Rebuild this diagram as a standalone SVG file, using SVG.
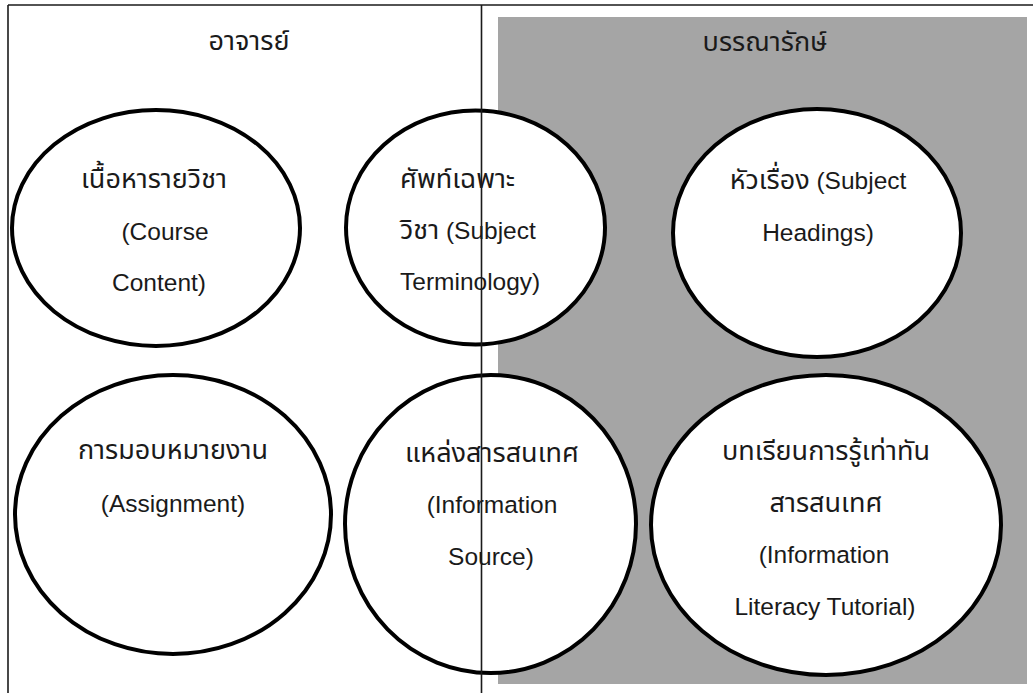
<svg xmlns="http://www.w3.org/2000/svg" width="1033" height="693" viewBox="0 0 1033 693">
<style>
.bg{fill:#ffffff}
.shade{fill:#a5a5a5}
.node{fill:#ffffff;stroke:#000000;stroke-width:4}
.frame{stroke:#1a1a1a;stroke-width:1.6;fill:none}
text{font-family:"Liberation Sans","Noto Sans Thai","Noto Sans",sans-serif;font-size:24.5px;fill:#1a1a1a}
.th{font-size:27px}
.c{text-anchor:middle}
.l{text-anchor:start}
</style>
<rect class="bg" x="0" y="0" width="1033" height="693"/>
<rect class="shade" x="498" y="17" width="529" height="667"/>
<text class="c th" x="249" y="50">อาจารย์</text>
<text class="c th" x="765" y="51">บรรณารักษ์</text>
<g id="node-course-content">
<ellipse class="node" cx="156" cy="228" rx="144" ry="118"/>
<text class="c th" x="154" y="188">เนื้อหารายวิชา</text>
<text class="c" x="165" y="240">(Course</text>
<text class="c" x="159" y="291">Content)</text>
</g>
<g id="node-subject-terminology">
<ellipse class="node" cx="475.5" cy="227.5" rx="129.5" ry="117"/>
<text class="l th" x="400" y="188">ศัพท์เฉพาะ</text>
<text class="l" x="400" y="239"><tspan class="th">วิชา</tspan> (Subject</text>
<text class="l" x="400" y="290">Terminology)</text>
</g>
<g id="node-subject-headings">
<ellipse class="node" cx="817" cy="233" rx="144" ry="124"/>
<text class="c" x="818" y="189"><tspan class="th">หัวเรื่อง</tspan> (Subject</text>
<text class="c" x="818" y="241">Headings)</text>
</g>
<g id="node-assignment">
<ellipse class="node" cx="173" cy="514.5" rx="158" ry="139.5"/>
<text class="c th" x="173" y="459">การมอบหมายงาน</text>
<text class="c" x="173" y="512">(Assignment)</text>
</g>
<g id="node-information-source">
<ellipse class="node" cx="490.5" cy="524" rx="145.5" ry="149"/>
<text class="c th" x="492" y="462">แหล่งสารสนเทศ</text>
<text class="c" x="492" y="513">(Information</text>
<text class="c" x="491" y="565">Source)</text>
</g>
<g id="node-information-literacy">
<ellipse class="node" cx="826" cy="525" rx="175" ry="150"/>
<text class="c th" x="826" y="460">บทเรียนการรู้เท่าทัน</text>
<text class="c th" x="826" y="512">สารสนเทศ</text>
<text class="c" x="824" y="563">(Information</text>
<text class="c" x="825" y="615">Literacy Tutorial)</text>
</g>
<g id="connectors">
<line class="frame" x1="8" y1="5" x2="1033" y2="5"/>
<line class="frame" x1="8" y1="5" x2="8" y2="693"/>
<line class="frame" x1="481.5" y1="5" x2="481.5" y2="693"/>
</g>
</svg>
